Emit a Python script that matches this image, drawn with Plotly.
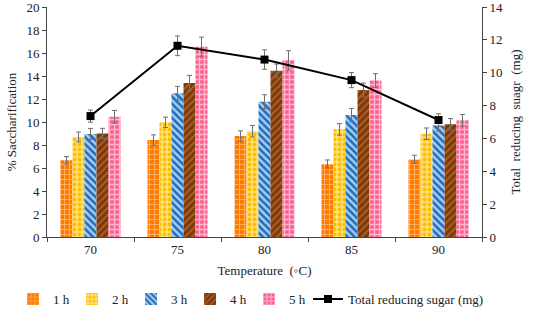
import plotly.graph_objects as go

temps = ["70", "75", "80", "85", "90"]
series_names = ["1 h", "2 h", "3 h", "4 h", "5 h"]
sacch = {
    "1 h": [6.67, 8.43, 8.78, 6.35, 6.75],
    "2 h": [8.70, 9.97, 9.20, 9.36, 8.98],
    "3 h": [8.96, 12.50, 11.77, 10.60, 9.70],
    "4 h": [9.00, 13.40, 14.46, 12.78, 9.80],
    "5 h": [10.46, 16.55, 15.36, 13.60, 10.15],
}
sacch_err = {
    "1 h": [0.32, 0.45, 0.45, 0.35, 0.36],
    "2 h": [0.43, 0.45, 0.50, 0.50, 0.50],
    "3 h": [0.48, 0.60, 0.60, 0.58, 0.48],
    "4 h": [0.45, 0.65, 0.58, 0.60, 0.50],
    "5 h": [0.55, 0.83, 0.84, 0.60, 0.50],
}
trs = [7.36, 11.64, 10.80, 9.55, 7.12]
trs_err = [0.37, 0.60, 0.59, 0.46, 0.38]

styles = {
    "1 h": dict(bg="#FF7A00", fg="#FFB060", shape="+", solidity=0.35),
    "2 h": dict(bg="#FFE07A", fg="#FFBF00", shape=".", solidity=0.45),
    "3 h": dict(bg="#A8CDEE", fg="#1B6CC0", shape="\\", solidity=0.5),
    "4 h": dict(bg="#7A3A0A", fg="#B0602A", shape="/", solidity=0.35),
    "5 h": dict(bg="#FF5C8F", fg="#FFB7CC", shape="+", solidity=0.5),
}

font_family = "Liberation Serif"
fig = go.Figure()
for name in series_names:
    st = styles[name]
    fig.add_trace(go.Bar(
        x=temps, y=sacch[name], name=name, legend="legend",
        marker=dict(color=st["bg"], line=dict(width=0),
                    pattern=dict(shape=st["shape"], fgcolor=st["fg"], bgcolor=st["bg"],
                                 size=5, solidity=st["solidity"], fillmode="replace")),
        error_y=dict(type="data", array=sacch_err[name], color="#707070", thickness=1, width=2.5),
    ))
fig.add_trace(go.Scatter(
    x=temps, y=trs, name="Total reducing sugar (mg)", yaxis="y2", legend="legend2",
    mode="lines+markers",
    line=dict(color="black", width=2),
    marker=dict(symbol="square", size=8, color="black"),
    error_y=dict(type="data", array=trs_err, color="#707070", thickness=1, width=2.5),
))

axis_font = dict(family=font_family, size=13, color="#222222")
legend_font = dict(family=font_family, size=13, color="#222222")
fig.update_layout(
    width=533, height=320,
    margin=dict(l=47, r=51, t=7, b=83, autoexpand=False),
    plot_bgcolor="white", paper_bgcolor="white",
    barmode="group", bargap=0.31, bargroupgap=0,
    font=dict(family=font_family, size=13, color="#222222"),
    xaxis=dict(
        type="category", tickson="boundaries", ticks="outside", ticklen=4,
        showline=True, linecolor="#444444", linewidth=1, tickcolor="#444444",
        tickfont=axis_font, showgrid=False,
        title=dict(text="Temperature  (◦C)", font=axis_font, standoff=10),
    ),
    yaxis=dict(
        range=[0, 20], dtick=2, ticks="outside", ticklen=4,
        showline=True, linecolor="#444444", linewidth=1, tickcolor="#444444",
        tickfont=axis_font, showgrid=False, zeroline=False, ticklabeloverflow="allow",
        title=dict(text="% Saccharification", font=axis_font, standoff=6),
    ),
    yaxis2=dict(
        range=[0, 14], dtick=2, overlaying="y", side="right", ticks="outside", ticklen=4,
        showline=True, linecolor="#444444", linewidth=1, tickcolor="#444444",
        tickfont=axis_font, showgrid=False, zeroline=False, ticklabeloverflow="allow",
        title=dict(text="Total  reducing  suagr  (mg)", font=axis_font, standoff=8),
    ),
    legend=dict(orientation="h", x=-0.078, xanchor="left", y=-0.205, yanchor="top",
                font=legend_font, itemwidth=30, entrywidth=14, entrywidthmode="pixels",
                tracegroupgap=0, bgcolor="rgba(0,0,0,0)"),
    legend2=dict(orientation="h", x=0.60, xanchor="left", y=-0.205, yanchor="top",
                 font=legend_font, itemwidth=30, bgcolor="rgba(0,0,0,0)"),
    showlegend=True,
)
fig.write_html("out.html", config={"displayModeBar": False},
               post_script="document.body.style.margin='0';")
